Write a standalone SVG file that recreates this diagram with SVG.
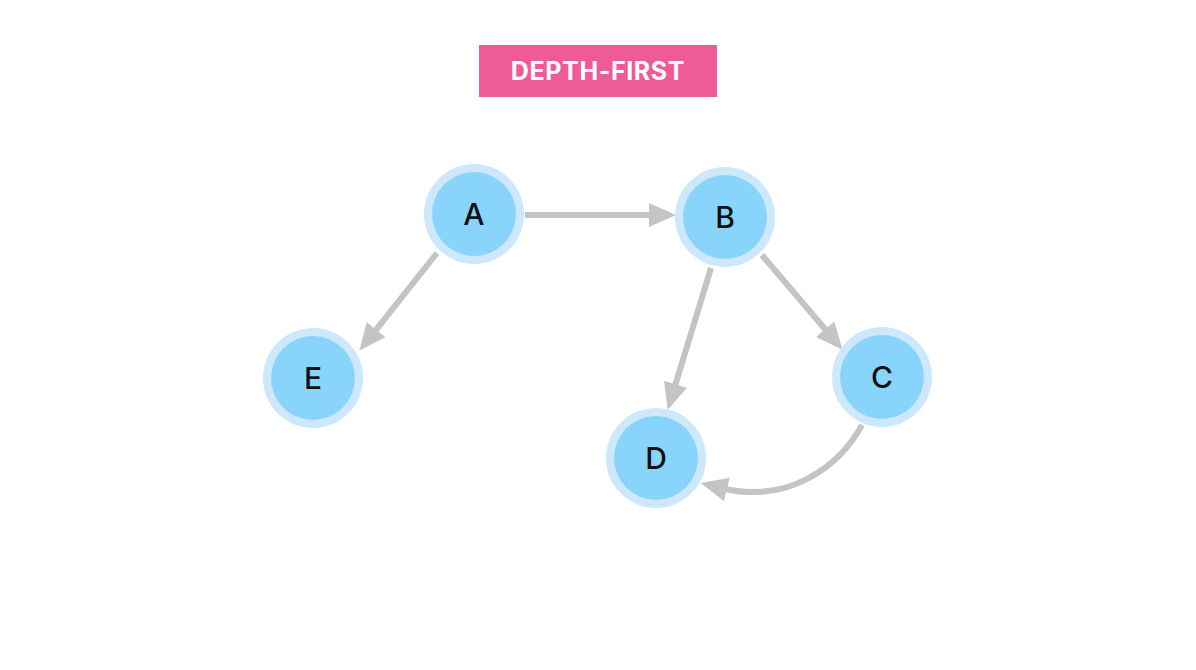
<svg xmlns="http://www.w3.org/2000/svg" width="1196" height="670" viewBox="0 0 1196 670">
  <style>
    .ring { fill: #cde8fb; }
    .core { fill: #89d4fb; }
    .label { font-family: Inter, "Open Sans", sans-serif; font-size: 30px; font-weight: 500; fill: #111111; text-anchor: middle; }
    .edge { fill: none; stroke: #c4c4c4; stroke-width: 6; marker-end: url(#head); }
    .title { font-family: Inter, "Open Sans", sans-serif; font-size: 25px; font-weight: 700; fill: #ffffff; text-anchor: middle; letter-spacing: 0.6px; }
  </style>
  <defs>
    <marker id="head" markerUnits="userSpaceOnUse" markerWidth="28" markerHeight="26" refX="6" refY="12" orient="auto">
      <path d="M0,0 L27,12 L0,24 Z" fill="#c4c4c4"/>
    </marker>
  </defs>
  <rect width="1196" height="670" fill="#ffffff"/>

  <g id="title">
    <rect x="479" y="45" width="238" height="52" fill="#ee5b98"/>
    <text class="title" x="598" y="80">DEPTH-FIRST</text>
  </g>

  <g id="connectors">
    <path class="edge" d="M525,215 L655,215"/>
    <path class="edge" d="M437,253 L372.4,334.3"/>
    <path class="edge" d="M711,268 L673.8,389.9"/>
    <path class="edge" d="M762,255 L829,333.8"/>
    <path class="edge" d="M862,425 C840,465 790,505 721,488"/>
  </g>

  <g id="node-A">
    <circle class="ring" cx="474" cy="214" r="50"/>
    <circle class="core" cx="474" cy="214" r="42"/>
    <text class="label" x="474" y="225">A</text>
  </g>
  <g id="node-B">
    <circle class="ring" cx="725" cy="217" r="50"/>
    <circle class="core" cx="725" cy="217" r="42"/>
    <text class="label" x="725" y="228">B</text>
  </g>
  <g id="node-C">
    <circle class="ring" cx="882" cy="377" r="50"/>
    <circle class="core" cx="882" cy="377" r="42"/>
    <text class="label" x="882" y="388">C</text>
  </g>
  <g id="node-D">
    <circle class="ring" cx="656" cy="458" r="50"/>
    <circle class="core" cx="656" cy="458" r="42"/>
    <text class="label" x="656" y="469">D</text>
  </g>
  <g id="node-E">
    <circle class="ring" cx="313" cy="378" r="50"/>
    <circle class="core" cx="313" cy="378" r="42"/>
    <text class="label" x="313" y="389">E</text>
  </g>
</svg>
